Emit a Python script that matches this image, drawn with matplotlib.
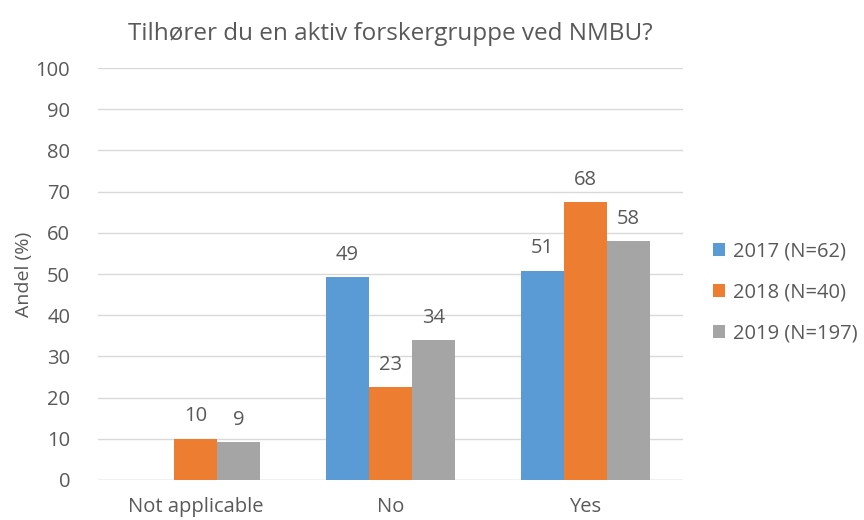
import numpy as np
import matplotlib.pyplot as plt

plt.rcParams['font.family'] = ['Open Sans', 'DejaVu Sans']

categories = ["Not applicable", "No", "Yes"]
series = ["2017 (N=62)", "2018 (N=40)", "2019 (N=197)"]
v2017 = [np.nan, 49.2, 50.8]
v2018 = [10.0, 22.6, 67.5]
v2019 = [9.1, 34.0, 58.0]
colors = ["#5b9bd5", "#ed7d31", "#a5a5a5"]
txt = "#595959"

fig = plt.figure(figsize=(8.64, 5.2), dpi=100)
ax = fig.add_axes([0.1134, 0.077, 0.677, 0.792])

x = np.arange(len(categories))
w = 0.22
for i, (vals, lab, col) in enumerate(zip([v2017, v2018, v2019], series, colors)):
    pos = x + (i - 1) * w
    ax.bar(pos, vals, w, color=col, label=lab, zorder=3)
    for p, v in zip(pos, vals):
        if not np.isnan(v):
            ax.text(p, v + 3, f"{v:.0f}", ha="center", va="bottom",
                    fontsize=14.5, color=txt)

ax.set_ylim(0, 100)
ax.set_xlim(-0.5, 2.5)
ax.set_yticks(range(0, 101, 10))
ax.set_xticks(x)
ax.set_xticklabels(categories)
ax.yaxis.grid(True, color="#d9d9d9", linewidth=1, zorder=0)
ax.tick_params(axis="both", length=0, labelsize=14.5, colors=txt)
ax.tick_params(axis="x", pad=12)
ax.tick_params(axis="y", pad=20)
for s in ax.spines.values():
    s.set_visible(False)
ax.axhline(0, color="#d9d9d9", linewidth=1, zorder=2)
ax.set_ylabel("Andel (%)", fontsize=14, color=txt, labelpad=2)
ax.set_title("Tilhører du en aktiv forskergruppe ved NMBU?", fontsize=17.5,
             color=txt, pad=20)

ax.legend(loc="center left", bbox_to_anchor=(1.02, 0.455), frameon=False,
          fontsize=14.5, labelcolor=txt, handlelength=0.6, handleheight=0.6,
          handletextpad=0.4, labelspacing=1.05)

fig.savefig("out.png", dpi=100)
